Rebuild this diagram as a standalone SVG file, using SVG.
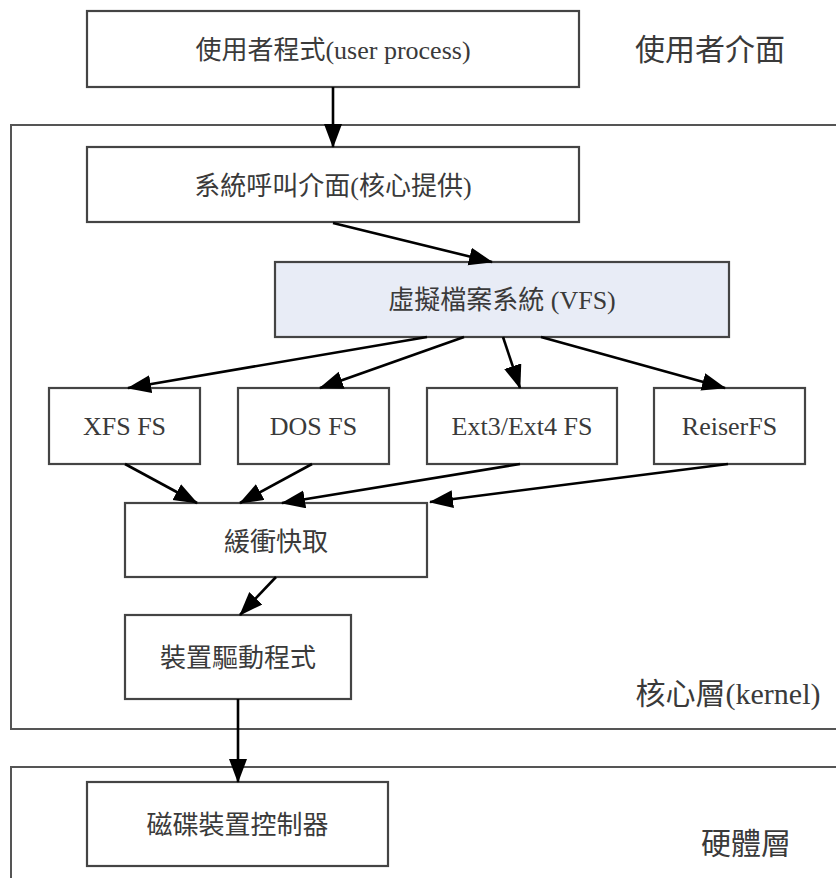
<svg xmlns="http://www.w3.org/2000/svg" width="836" height="878" viewBox="0 0 836 878">
<defs>
<marker id="ah" markerUnits="userSpaceOnUse" markerWidth="26" markerHeight="20" refX="23" refY="9" orient="auto">
<path d="M0,0 L24,9 L0,18 z" fill="#000"/>
</marker>
<style>
.box{fill:#fff;stroke:#444;stroke-width:2.2}
.vfs{fill:#e8ecf6;stroke:#444;stroke-width:2.2}
.layer{fill:none;stroke:#555;stroke-width:2}
.t{font-family:"Liberation Serif","Noto Sans CJK TC",serif;font-size:26px;fill:#3a3a3a;text-anchor:middle;dominant-baseline:central}
.lt{font-family:"Liberation Serif","Noto Sans CJK TC",serif;font-size:30px;fill:#3a3a3a;text-anchor:middle;dominant-baseline:central}
.c{stroke:#000;stroke-width:2.6;fill:none;marker-end:url(#ah)}
</style>
</defs>
<rect width="836" height="878" fill="#fff"/>
<g id="layer-kernel"><path class="layer" d="M840,125 H11 V729 H840"/><text class="lt" x="728" y="693">核心層(kernel)</text></g>
<g id="layer-hw"><path class="layer" d="M840,767 H11 V880"/><text class="lt" x="746" y="843">硬體層</text></g>
<g id="layer-user"><text class="lt" x="710" y="49">使用者介面</text></g>
<g id="n-user"><rect class="box" x="87" y="11" width="492" height="76"/><text class="t" x="333" y="50">使用者程式(user process)</text></g>
<g id="n-syscall"><rect class="box" x="87" y="147" width="492" height="75"/><text class="t" x="333" y="186">系統呼叫介面(核心提供)</text></g>
<g id="n-vfs"><rect class="vfs" x="275" y="262" width="454" height="75"/><text class="t" x="502" y="300">虛擬檔案系統 (VFS)</text></g>
<g id="n-xfs"><rect class="box" x="49" y="388" width="151" height="76"/><text class="t" x="124.5" y="426">XFS FS</text></g>
<g id="n-dos"><rect class="box" x="238" y="388" width="151" height="76"/><text class="t" x="313.5" y="426">DOS FS</text></g>
<g id="n-ext"><rect class="box" x="427" y="388" width="190" height="76"/><text class="t" x="522" y="426">Ext3/Ext4 FS</text></g>
<g id="n-reiser"><rect class="box" x="654" y="388" width="151" height="76"/><text class="t" x="729.5" y="426">ReiserFS</text></g>
<g id="n-cache"><rect class="box" x="125" y="503" width="302" height="74"/><text class="t" x="276" y="542">緩衝快取</text></g>
<g id="n-driver"><rect class="box" x="125" y="615" width="226" height="84"/><text class="t" x="238" y="658">裝置驅動程式</text></g>
<g id="n-disk"><rect class="box" x="87" y="782" width="301" height="84"/><text class="t" x="237.5" y="825">磁碟裝置控制器</text></g>
<g id="connectors">
<line class="c" x1="333" y1="87" x2="333" y2="147"/>
<line class="c" x1="333" y1="223" x2="492" y2="262"/>
<line class="c" x1="427" y1="337" x2="128" y2="388"/>
<line class="c" x1="464" y1="337" x2="320" y2="388"/>
<line class="c" x1="503" y1="337" x2="520" y2="388"/>
<line class="c" x1="541" y1="337" x2="725" y2="388"/>
<line class="c" x1="125" y1="464" x2="197" y2="503"/>
<line class="c" x1="312" y1="464" x2="240" y2="503"/>
<line class="c" x1="520" y1="464" x2="282" y2="503"/>
<line class="c" x1="728" y1="464" x2="430" y2="502"/>
<line class="c" x1="276" y1="577" x2="240" y2="615"/>
<line class="c" x1="238" y1="699" x2="238" y2="782"/>
</g>
</svg>
